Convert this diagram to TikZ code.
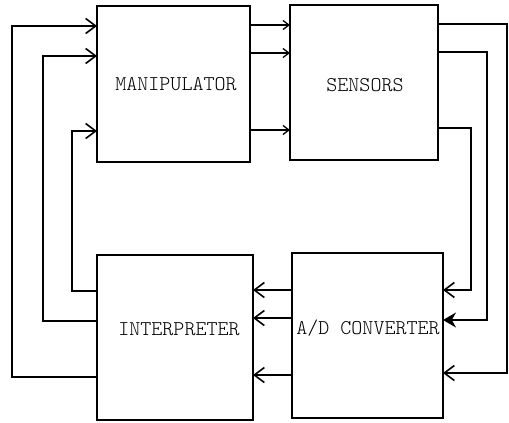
\documentclass[tikz,border=0pt]{standalone}
\usepackage{fontspec}
\newfontfamily\lmlight{Latin Modern Mono Light}
\usetikzlibrary{arrows.meta}
\begin{document}
\begin{tikzpicture}[x=1pt,y=-1pt,
  box/.style={draw,line width=1.4pt,inner sep=0pt,outer sep=0pt},
  lbl/.style={font=\lmlight\fontsize{21}{21}\selectfont,inner sep=0pt},
  wire/.style={line width=1.2pt},
  arr/.style={wire,-{Straight Barb[length=10pt,width=15pt,line width=1.6pt]}},
  sarr/.style={wire,-{Straight Barb[length=6pt,width=9pt,line width=1.3pt]}},
  barr/.style={wire,-{Stealth[length=13pt,width=15pt]}}]
\useasboundingbox (0,0) rectangle (509,423);
\fill[white] (0,0) rectangle (509,423);
% boxes
\node[box,minimum width=153pt,minimum height=156pt] (man) at (173.5,84) {};
\node[box,minimum width=148pt,minimum height=155pt] (sen) at (364,82.5) {};
\node[box,minimum width=156pt,minimum height=165pt] (int) at (175,337.5) {};
\node[box,minimum width=151pt,minimum height=165pt] (adc) at (367.5,335.5) {};
% labels
\node[lbl] (tman) at (176,84) {MANIPULATOR};
\node[lbl] (tsen) at (365,85) {SENSORS};
\node[lbl] (tint) at (179,329) {INTERPRETER};
\node[lbl] (tadc) at (368,328) {A/D CONVERTER};
% feedback interpreter -> manipulator
\draw[arr] (int.west |- 0,377) -- (12,377) -- (12,26) -- (man.west |- 0,26);
\draw[arr] (int.west |- 0,321) -- (43,321) -- (43,56) -- (man.west |- 0,56);
\draw[arr] (int.west |- 0,291) -- (72,291) -- (72,131) -- (man.west |- 0,131);
% manipulator -> sensors
\draw[sarr] (man.east |- 0,25) -- (sen.west |- 0,25);
\draw[sarr] (man.east |- 0,53) -- (sen.west |- 0,53);
\draw[sarr] (man.east |- 0,130) -- (sen.west |- 0,130);
% sensors -> A/D
\draw[arr] (sen.east |- 0,24) -- (507,24) -- (507,373) -- (adc.east |- 0,373);
\draw[barr] (sen.east |- 0,52) -- (487,52) -- (487,320) -- (adc.east |- 0,320);
\draw[arr] (sen.east |- 0,128) -- (471,128) -- (471,290) -- (adc.east |- 0,290);
% A/D -> interpreter
\draw[arr] (adc.west |- 0,290) -- (int.east |- 0,290);
\draw[arr] (adc.west |- 0,318) -- (int.east |- 0,318);
\draw[arr] (adc.west |- 0,375) -- (int.east |- 0,375);
\end{tikzpicture}
\end{document}
